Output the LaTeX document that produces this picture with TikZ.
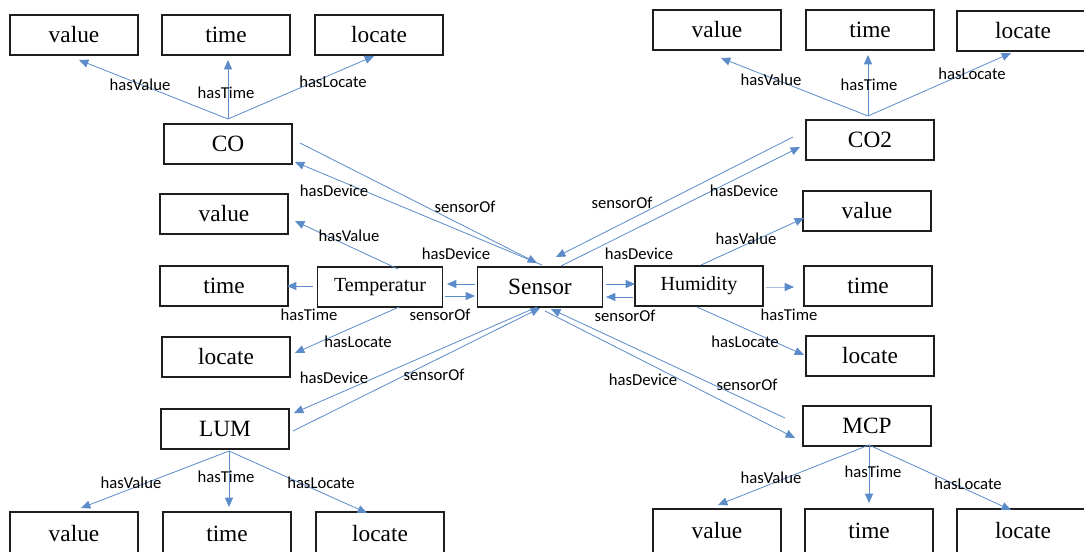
\documentclass[tikz,border=0pt]{standalone}
\usepackage{fontspec}
\setmainfont{Liberation Serif}
\newfontfamily\lblfont{Carlito}
\usetikzlibrary{arrows.meta,calc}
\definecolor{linkblue}{RGB}{91,139,200}
\definecolor{boxline}{RGB}{30,30,30}
\begin{document}
\begin{tikzpicture}[x=0.75pt,y=-0.75pt,
  box/.style={draw=boxline,line width=1.1pt,minimum width=96pt,minimum height=30pt,
    inner sep=0pt,font=\fontsize{17.5}{20}\selectfont},
  smallbox/.style={box,font=\fontsize{15}{18}\selectfont},
  edgebox/.style={box,minimum width=99pt},
  lowbox/.style={box,minimum height=33pt},
  link/.style={linkblue,line width=0.6pt,-{Triangle[length=7pt,width=6pt,color=linkblue,fill=linkblue]}},
  lbl/.style={font=\lblfont\fontsize{12.5}{14}\selectfont,inner sep=1pt,text=black}]
\clip (0,0) rectangle (1084,551);
\fill[white] (0,0) rectangle (1084,551);

% ---- nodes ----
\node[box] (valTL) at (74,35) {value};
\node[box] (timeTL) at (226,35) {time};
\node[box] (locTL) at (379,35) {locate};
\node[box] (CO) at (228,144) {CO};
\node[box] (valL) at (224,214) {value};
\node[smallbox,minimum width=94pt] (tmp) at (380,287) {Temperatur};
\node[box] (timeL) at (224,286) {time};
\node[box] (locL) at (226,357) {locate};
\node[box] (LUM) at (225,429) {LUM};
\node[lowbox] (valBL) at (74,534) {value};
\node[lowbox] (timeBL) at (227,534) {time};
\node[lowbox] (locBL) at (380,534) {locate};

\node[box,minimum width=94pt] (Sensor) at (540,287) {Sensor};
\node[smallbox] (Hum) at (699,286) {Humidity};

\node[box] (valTR) at (717,30) {value};
\node[box] (timeTR) at (870,30) {time};
\node[edgebox] (locTR) at (1023,31) {locate};
\node[box] (CO2) at (870,140) {CO2};
\node[box] (valR) at (867,211) {value};
\node[box] (timeR) at (868,286) {time};
\node[box] (locR) at (870,356) {locate};
\node[box] (MCP) at (867,426) {MCP};
\node[lowbox] (valBR) at (717,531) {value};
\node[lowbox] (timeBR) at (869,531) {time};
\node[lowbox,minimum width=99pt] (locBR) at (1023,531) {locate};

% ---- CO ----
\draw[link] ($(CO)+(0,-25)$) -- ($(valTL)+(5,25)$);
\draw[link] ($(CO)+(0,-25)$) -- ($(timeTL)+(2,25)$);
\draw[link] ($(CO)+(0,-25)$) -- ($(locTL)+(-5,21)$);
\draw[link] ($(Sensor)+(2,-22)$) -- ($(CO)+(67,18)$);
\draw[link] ($(CO)+(72,-1)$) -- ($(Sensor)+(-3,-24)$);

% ---- Temperatur ----
\draw[link] ($(tmp)+(18,-18)$) -- ($(valL)+(71,7)$);
\draw[link] ($(tmp)+(-67,-1)$) -- ($(timeL)+(63,0)$);
\draw[link] ($(tmp)+(19,20)$) -- ($(locL)+(69,-4)$);
\draw[link] ($(Sensor)+(-65,-3)$) -- ($(tmp)+(67,-3)$);
\draw[link] ($(tmp)+(65,9)$) -- ($(Sensor)+(-65,9)$);

% ---- Humidity ----
\draw[link] ($(Sensor)+(66,-3)$) -- ($(Hum)+(-64,-2)$);
\draw[link] ($(Hum)+(-66,11)$) -- ($(Sensor)+(66,10)$);
\draw[link] ($(Hum)+(2,-21)$) -- ($(valR)+(-63,7)$);
\draw[link,draw=linkblue!55] ($(Hum)+(67,1)$) -- ($(timeR)+(-74,1)$);
\draw[link] ($(Hum)+(-2,21)$) -- ($(locR)+(-66,-1)$);

% ---- CO2 ----
\draw[link] ($(CO2)+(-77,-3)$) -- ($(Sensor)+(16,-30)$);
\draw[link] ($(Sensor)+(21,-21)$) -- ($(CO2)+(-70,7)$);
\draw[link] ($(CO2)+(-2,-24)$) -- ($(valTR)+(4,28)$);
\draw[link] ($(CO2)+(-2,-24)$) -- ($(timeTR)+(-2,25)$);
\draw[link] ($(CO2)+(-2,-24)$) -- ($(locTR)+(-12,22)$);

% ---- LUM ----
\draw[link] ($(Sensor)+(-3,20)$) -- ($(LUM)+(69,-16)$);
\draw[link] ($(LUM)+(68,2)$) -- ($(Sensor)+(0,21)$);
\draw[link] ($(LUM)+(4,22)$) -- ($(valBL)+(7,-26)$);
\draw[link] ($(LUM)+(4,22)$) -- ($(timeBL)+(2,-27)$);
\draw[link] ($(LUM)+(4,22)$) -- ($(locBL)+(-13,-21)$);

% ---- MCP ----
\draw[link] ($(Sensor)+(5,24)$) -- ($(MCP)+(-72,12)$);
\draw[link] ($(MCP)+(-82,-8)$) -- ($(Sensor)+(11,22)$);
\draw[link] ($(MCP)+(2,19)$) -- ($(valBR)+(1,-26)$);
\draw[link] ($(MCP)+(2,19)$) -- ($(timeBR)+(0,-28)$);
\draw[link] ($(MCP)+(2,19)$) -- ($(locBR)+(-12,-21)$);

% ---- relation labels ----
\node[lbl] (l1) at (140,85) {hasValue};
\node[lbl] (l2) at (226,93) {hasTime};
\node[lbl] (l3) at (333,82) {hasLocate};
\node[lbl] (l4) at (334,191) {hasDevice};
\node[lbl] (l5) at (465,207) {sensorOf};
\node[lbl] (l6) at (349,236) {hasValue};
\node[lbl] (l7) at (309,315) {hasTime};
\node[lbl] (l8) at (358,342) {hasLocate};
\node[lbl] (l9) at (456,254) {hasDevice};
\node[lbl] (l10) at (440,315) {sensorOf};
\node[lbl] (l11) at (639,254) {hasDevice};
\node[lbl] (l12) at (625,316) {sensorOf};
\node[lbl] (l13) at (746,239) {hasValue};
\node[lbl] (l14) at (789,315) {hasTime};
\node[lbl] (l15) at (745,342) {hasLocate};
\node[lbl] (l16) at (622,203) {sensorOf};
\node[lbl] (l17) at (744,191) {hasDevice};
\node[lbl] (l18) at (771,80) {hasValue};
\node[lbl] (l19) at (869,85) {hasTime};
\node[lbl] (l20) at (972,74) {hasLocate};
\node[lbl] (l21) at (334,378) {hasDevice};
\node[lbl] (l22) at (434,375) {sensorOf};
\node[lbl] (l23) at (643,380) {hasDevice};
\node[lbl] (l24) at (747,385) {sensorOf};
\node[lbl] (l25) at (131,483) {hasValue};
\node[lbl] (l26) at (226,477) {hasTime};
\node[lbl] (l27) at (321,483) {hasLocate};
\node[lbl] (l28) at (771,478) {hasValue};
\node[lbl] (l29) at (873,472) {hasTime};
\node[lbl] (l30) at (968,484) {hasLocate};
\end{tikzpicture}
\end{document}
